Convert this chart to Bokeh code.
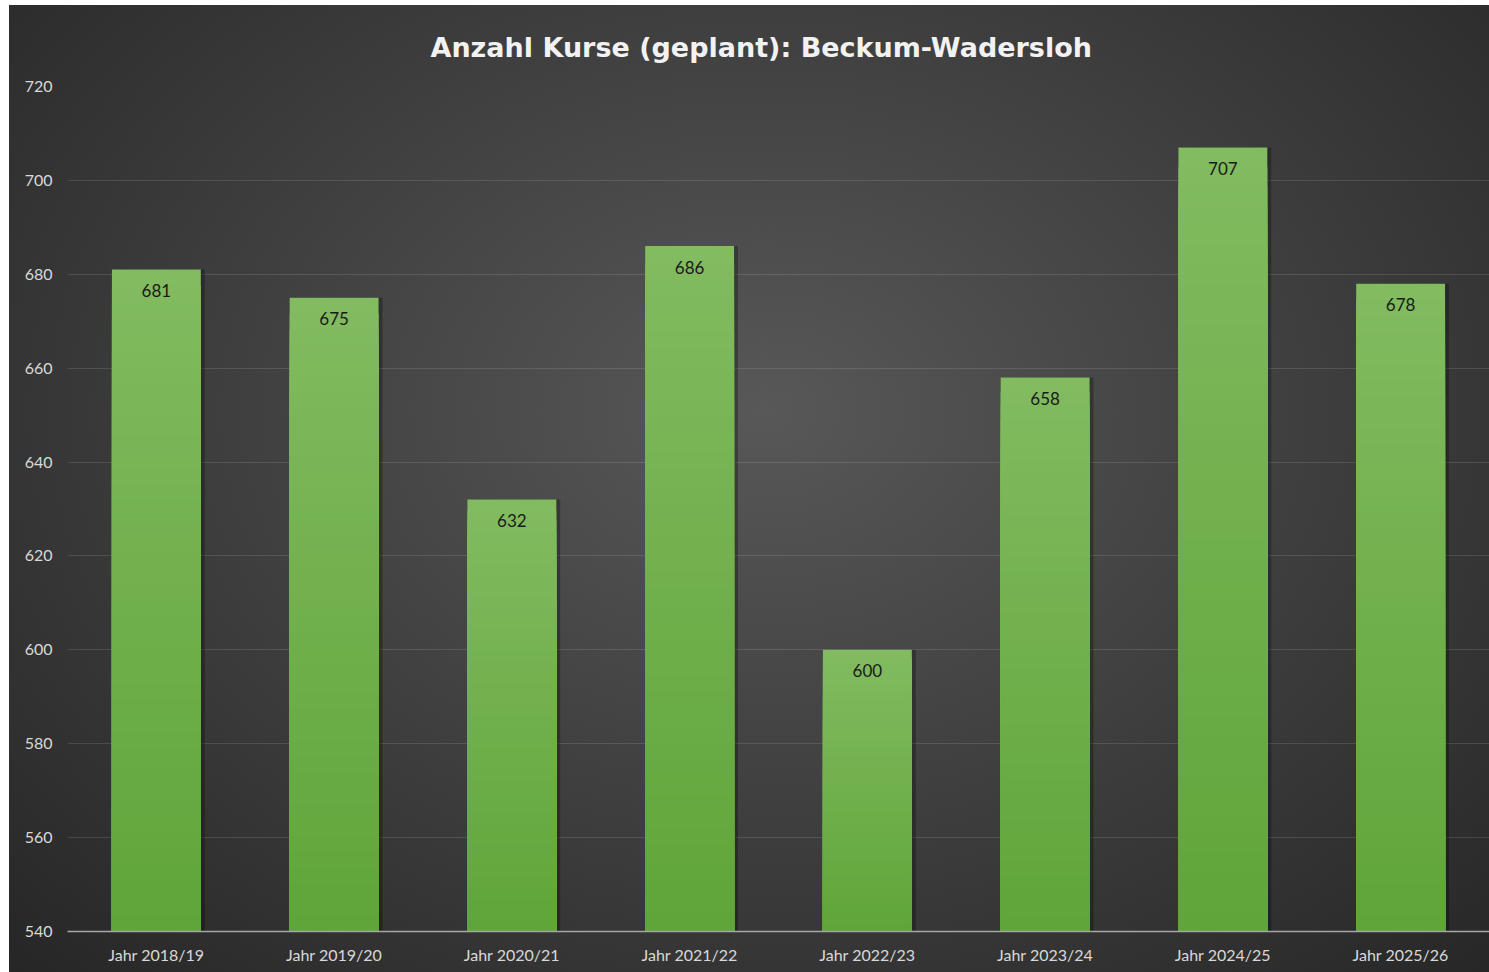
from bokeh.plotting import figure
from bokeh.models import FactorRange, Range1d, ColumnDataSource
from bokeh.transform import dodge
from bokeh.core.properties import value
from bokeh.embed import file_html
from bokeh.resources import INLINE

# ---- data ----
categories = ["Jahr 2018/19", "Jahr 2019/20", "Jahr 2020/21", "Jahr 2021/22",
              "Jahr 2022/23", "Jahr 2023/24", "Jahr 2024/25", "Jahr 2025/26"]
values = [681, 675, 632, 686, 600, 658, 707, 678]
y_ticks = [540, 560, 580, 600, 620, 640, 660, 680, 700, 720]
y_min, y_max = 540, 720
title_text = "Anzahl Kurse (geplant): Beckum-Wadersloh"

FONT = "Lato"
TOP_COLOR = (0x82, 0xBB, 0x61)
BOTTOM_COLOR = (0x5F, 0xA5, 0x38)


def mix(c1, c2, t):
    return "#%02x%02x%02x" % tuple(int(round(a + (b - a) * t)) for a, b in zip(c1, c2))


p = figure(
    x_range=FactorRange(*categories),
    y_range=Range1d(y_min, y_max),
    width=1480, height=967,
    output_backend="svg", toolbar_location=None,
    min_border_left=58, min_border_right=0,
    min_border_top=81, min_border_bottom=41,
)
p.styles = {
    "background": "radial-gradient(ellipse farthest-corner at 51% 42%, #585858 0%, #262626 100%)",
    "margin-left": "9px",
    "margin-top": "5px",
}
p.border_fill_color = None
p.background_fill_color = None
p.outline_line_color = None

# title
p.title.text = title_text
p.title.align = "left"
p.title.offset = 363
p.title.text_font = "DejaVu Sans"
p.title.text_font_style = "bold"
p.title.text_font_size = "27px"
p.title.text_color = "#f2f2f2"
p.title.standoff = 47

# axes
p.yaxis.ticker = y_ticks
p.yaxis.axis_line_color = None
p.yaxis.major_tick_line_color = None
p.yaxis.minor_tick_line_color = None
p.yaxis.major_label_text_color = "#d9d9d9"
p.yaxis.major_label_text_font = FONT
p.yaxis.major_label_text_font_size = "16px"
p.yaxis.major_label_standoff = 9

p.xaxis.axis_line_color = "#a6a6a6"
p.xaxis.axis_line_width = 1.5
p.xaxis.major_tick_line_color = None
p.xaxis.minor_tick_line_color = None
p.xaxis.major_label_text_color = "#d9d9d9"
p.xaxis.major_label_text_font = FONT
p.xaxis.major_label_text_font_size = "16px"
p.xaxis.major_label_standoff = 7

p.xgrid.grid_line_color = None
p.ygrid.ticker = y_ticks
p.ygrid.grid_line_color = "white"
p.ygrid.grid_line_alpha = 0.12
p.ygrid.grid_line_width = 1

# shadows
p.vbar(x=dodge("cat", 0.022, range=p.x_range), top="v", bottom=y_min, width=0.5,
       source=ColumnDataSource(dict(cat=categories, v=values)),
       fill_color="black", fill_alpha=0.28, line_color=None)

# gradient bars: overlapping layers, each drawn from the axis base up to a
# fraction of the value (tallest / lightest first)
N = 40
xs, ts, cs = [], [], []
for i in range(N, 0, -1):
    for cat, v in zip(categories, values):
        xs.append(cat)
        ts.append(y_min + (v - y_min) * i / N)
        cs.append(mix(BOTTOM_COLOR, TOP_COLOR, (i - 0.5) / N))
p.vbar(x="x", bottom=y_min, top="t", width=0.5, fill_color="c", line_color=None,
       source=ColumnDataSource(dict(x=xs, t=ts, c=cs)))

# data labels
p.text(x=categories, y=values, text=[str(v) for v in values],
       text_align="center", text_baseline="middle", y_offset=21,
       text_font=value(FONT), text_font_size="17px", text_color="#1a1a1a")

open("out.html", "w").write(file_html(p, INLINE))
